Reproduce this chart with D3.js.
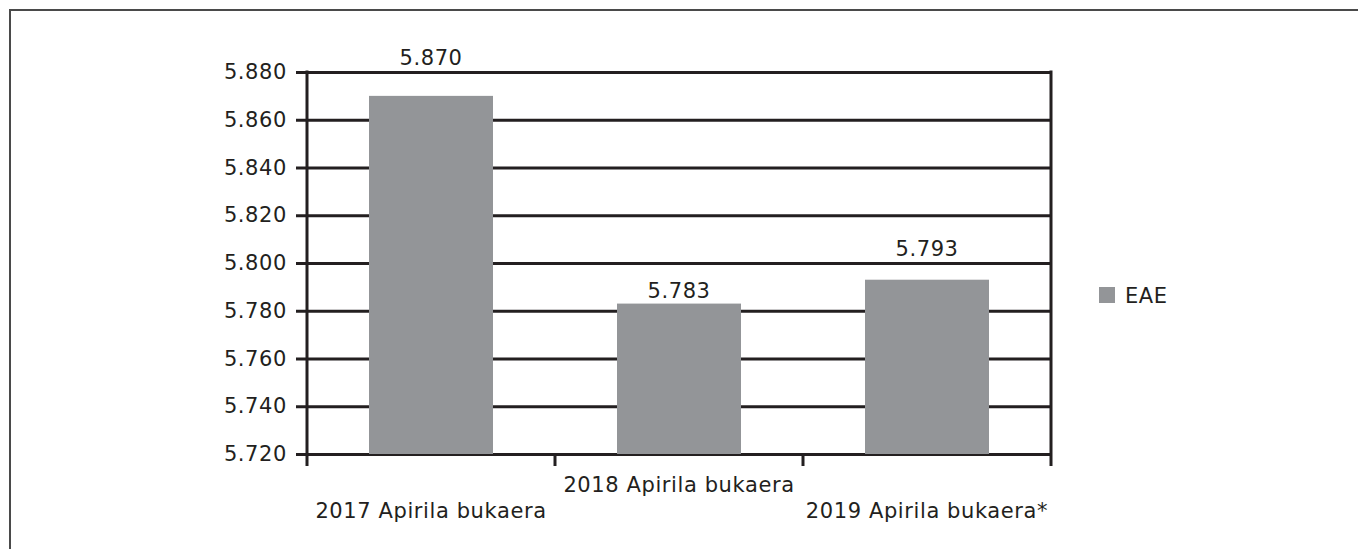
<!DOCTYPE html>
<html>
<head>
<meta charset="utf-8">
<script src="https://cdn.jsdelivr.net/npm/d3@7"></script>
<style>
  body { margin: 0; background: #fff; }
  text { font-family: "DejaVu Sans", sans-serif; fill: #231f20; }
</style>
</head>
<body>
<svg id="chart" width="1358" height="549"></svg>
<script>
// data
const categories = ["2017 Apirila bukaera", "2018 Apirila bukaera", "2019 Apirila bukaera*"];
const values = [5870, 5783, 5793];
const yTicks = [5720, 5740, 5760, 5780, 5800, 5820, 5840, 5860, 5880];
const seriesName = "EAE";

const ink = "#231f20";
const barColor = "#939598";

// basque style numbers: 5.870
const fmt = d3.formatLocale({ decimal: ",", thousands: ".", grouping: [3], currency: ["", ""] }).format(",");

let svg = d3.select("#chart");

// outer frame (top and left edges only visible)
svg.append("path")
  .attr("d", "M10,549V10H1358")
  .attr("fill", "none")
  .attr("stroke", "#4a4a4a")
  .attr("stroke-width", 2);

let x = d3.scaleBand()
  .domain(categories)
  .range([307, 1051])
  .paddingInner(0.5)
  .paddingOuter(0.25);

let y = d3.scaleLinear()
  .domain([d3.min(yTicks), d3.max(yTicks)])
  .range([454, 72]);

let plot = svg.append("g");

// gridlines + y axis
let yAxis = plot.append("g")
  .attr("transform", "translate(307,0)")
  .call(d3.axisLeft(y).tickValues(yTicks).tickFormat(fmt).tickSize(11).tickPadding(9));
yAxis.select(".domain").remove();
yAxis.selectAll(".tick line")
  .attr("x1", 1051 - 307)
  .attr("x2", -11)
  .attr("stroke", ink)
  .attr("stroke-width", 3);
yAxis.selectAll(".tick text")
  .attr("font-size", 21)
  .attr("letter-spacing", 0.6)
  .attr("fill", ink)
  .attr("font-family", "DejaVu Sans");

// bars
plot.selectAll(".bar")
  .data(values)
  .enter().append("rect")
  .attr("class", "bar")
  .attr("x", (d, i) => x(categories[i]))
  .attr("width", x.bandwidth())
  .attr("y", d => y(d))
  .attr("height", d => y.range()[0] - y(d))
  .attr("fill", barColor);

// vertical edges of plot and category ticks
let edges = [307].concat(categories.map(c => x(c) + x.bandwidth() / 2 + x.step() / 2));
plot.selectAll(".vline")
  .data(edges)
  .enter().append("line")
  .attr("class", "vline")
  .attr("x1", d => d).attr("x2", d => d)
  .attr("y1", (d, i) => (i === 0 || i === edges.length - 1) ? y.range()[1] - 1.5 : y.range()[0])
  .attr("y2", y.range()[0] + 12)
  .attr("stroke", ink)
  .attr("stroke-width", 3);

// value labels: sit on the bar, or hop over the gridline when there is no room
function labelY(d) {
  let above = yTicks.find(t => t >= d);
  let gap = y(d) - y(above);
  return gap < 26 ? y(above) - 7 : y(d) - 6;
}
plot.selectAll(".val")
  .data(values)
  .enter().append("text")
  .attr("class", "val")
  .attr("x", (d, i) => x(categories[i]) + x.bandwidth() / 2)
  .attr("y", d => labelY(d))
  .attr("text-anchor", "middle")
  .attr("font-size", 21)
  .attr("letter-spacing", 0.6)
  .text(d => fmt(d));

// category labels, staggered like the original
plot.selectAll(".cat")
  .data(categories)
  .enter().append("text")
  .attr("class", "cat")
  .attr("x", d => x(d) + x.bandwidth() / 2)
  .attr("y", (d, i) => y.range()[0] + (i % 2 ? 38 : 64))
  .attr("text-anchor", "middle")
  .attr("font-size", 21)
  .attr("letter-spacing", 0.6)
  .text(d => d);

// legend
let legend = svg.append("g").attr("transform", "translate(1099,287)");
legend.append("rect")
  .attr("width", 16).attr("height", 16)
  .attr("fill", barColor);
legend.append("text")
  .attr("x", 26).attr("y", 16)
  .attr("font-size", 21)
  .attr("letter-spacing", 0.6)
  .text(seriesName);
</script>
</body>
</html>
